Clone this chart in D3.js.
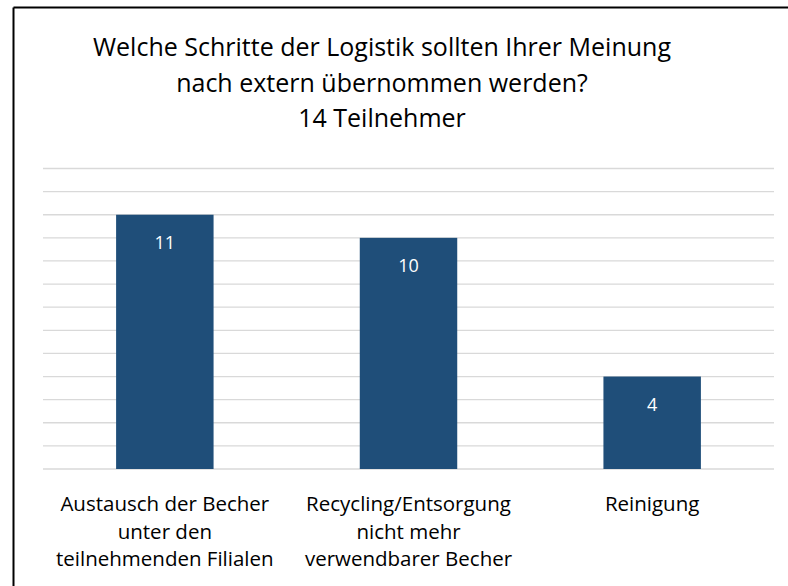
<!DOCTYPE html>
<html>
<head>
<meta charset="utf-8">
<script src="https://cdn.jsdelivr.net/npm/d3@7"></script>
<style>
    body { margin: 0; background: #fff; }
    svg { display: block; font-family: "Open Sans", "Noto Sans", sans-serif; }
</style>
</head>
<body>
<div id="chart"></div>
<script>
// DATA
const titleLines = ["Welche Schritte der Logistik sollten Ihrer Meinung", "nach extern übernommen werden?", "14 Teilnehmer"];
const categories = [
    ["Austausch der Becher", "unter den", "teilnehmenden Filialen"],
    ["Recycling/Entsorgung", "nicht mehr", "verwendbarer Becher"],
    ["Reinigung"]
];
const values = [11, 10, 4];
const yMax = 13;

// CHART VARIABLES
const width = 788;
const height = 586;
const plot = {left: 43, right: 774, top: 168.5, bottom: 469};
const barColor = "#1f4e79";

const svg = d3.select("#chart")
    .append("svg")
        .attr("width", width)
        .attr("height", height);

// frame (only top and left edge visible in the crop)
svg.append("line")
    .attr("x1", 13.5).attr("x2", width)
    .attr("y1", 7.5).attr("y2", 7.5)
    .attr("stroke", "#000").attr("stroke-width", 2);
svg.append("line")
    .attr("x1", 13.5).attr("x2", 13.5)
    .attr("y1", 7.5).attr("y2", height)
    .attr("stroke", "#000").attr("stroke-width", 2);

// title
svg.append("g")
    .selectAll("text")
    .data(titleLines)
    .join("text")
        .attr("x", 382)
        .attr("y", (d, i) => 56 + i * 35.5)
        .attr("text-anchor", "middle")
        .attr("font-size", 25)
        .attr("fill", "#000")
        .text(d => d);

// scales
const x = d3.scaleBand()
    .domain(d3.range(categories.length))
    .range([plot.left, plot.right]);
const y = d3.scaleLinear()
    .domain([0, yMax])
    .range([plot.bottom, plot.top]);

// gridlines
svg.append("g")
    .selectAll("line")
    .data(d3.range(0, yMax + 1))
    .join("line")
        .attr("x1", plot.left)
        .attr("x2", plot.right)
        .attr("y1", d => y(d))
        .attr("y2", d => y(d))
        .attr("stroke", "#d9d9d9")
        .attr("stroke-width", 1.3);

// bars
const barW = x.bandwidth() * 0.4;
svg.append("g")
    .selectAll("rect")
    .data(values)
    .join("rect")
        .attr("x", (d, i) => x(i) + x.bandwidth() / 2 - barW / 2)
        .attr("y", d => y(d))
        .attr("width", barW)
        .attr("height", d => y(0) - y(d))
        .attr("fill", barColor);

// value labels
svg.append("g")
    .selectAll("text")
    .data(values)
    .join("text")
        .attr("x", (d, i) => x(i) + x.bandwidth() / 2)
        .attr("y", d => y(d) + 34.5)
        .attr("text-anchor", "middle")
        .attr("font-size", 18)
        .attr("fill", "#fff")
        .text(d => d);

// category labels
const catG = svg.append("g")
    .selectAll("text")
    .data(categories)
    .join("text")
        .attr("text-anchor", "middle")
        .attr("font-size", 20.5)
        .attr("fill", "#000");
catG.selectAll("tspan")
    .data((d, i) => d.map(line => ({line, i})))
    .join("tspan")
        .attr("x", d => x(d.i) + x.bandwidth() / 2)
        .attr("y", (d, j) => 511 + j * 27.5)
        .text(d => d.line);
</script>
</body>
</html>
